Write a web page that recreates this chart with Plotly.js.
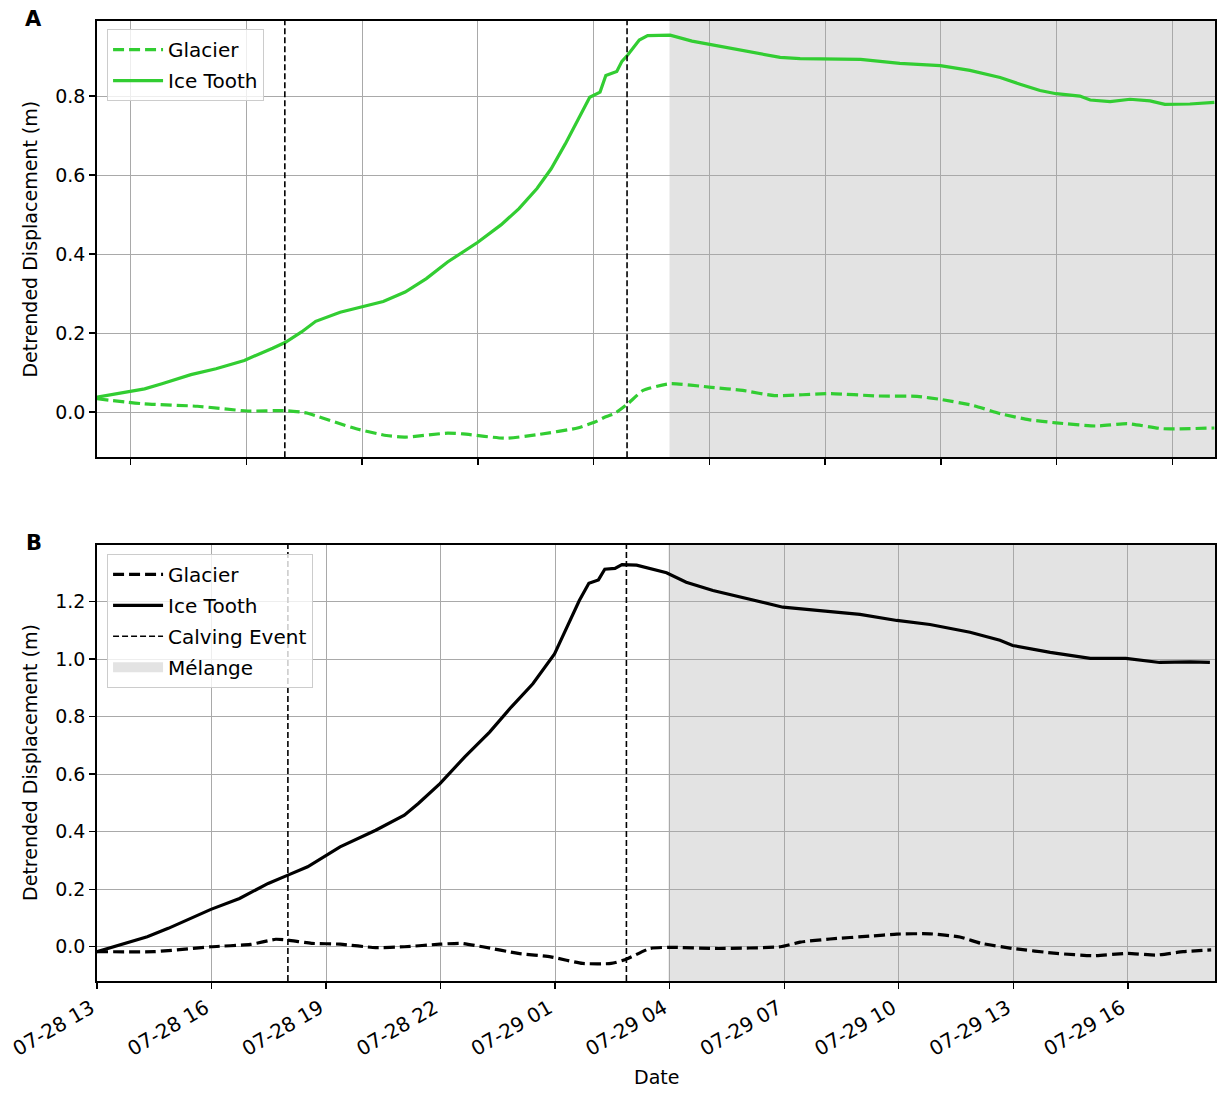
<!DOCTYPE html>
<html>
<head>
<meta charset="utf-8">
<script src="https://cdn.plot.ly/plotly-3.0.1.min.js"></script>
<style>
  html, body { margin: 0; padding: 0; background: #ffffff; }
  #chart { width: 1220px; height: 1093px; }
</style>
</head>
<body>
<div id="chart"></div>
<script>
// ---------- DATA (times as MM-DD HH:MM, values in metres) ----------
const topIceTime = ['07-28 13:08','07-28 14:22','07-28 14:49','07-28 15:34','07-28 16:13','07-28 16:57','07-28 17:41','07-28 18:01','07-28 18:26','07-28 18:48','07-28 19:26','07-28 20:00','07-28 20:33','07-28 21:07','07-28 21:40','07-28 22:13','07-28 23:00','07-28 23:36','07-29 00:04','07-29 00:32','07-29 00:54','07-29 01:16','07-29 01:38','07-29 01:54','07-29 02:10','07-29 02:19','07-29 02:36','07-29 02:44','07-29 02:53','07-29 03:11','07-29 03:24','07-29 03:59','07-29 04:33','07-29 05:17','07-29 05:48','07-29 06:19','07-29 06:50','07-29 07:21','07-29 07:58','07-29 08:55','07-29 09:56','07-29 10:59','07-29 11:45','07-29 12:32','07-29 13:03','07-29 13:34','07-29 13:59','07-29 14:36','07-29 14:52','07-29 15:23','07-29 15:54','07-29 16:25','07-29 16:48','07-29 17:27','07-29 18:05'];
const topIceTooth = [0.038,0.059,0.072,0.095,0.110,0.131,0.162,0.177,0.203,0.230,0.253,0.266,0.280,0.304,0.338,0.380,0.430,0.474,0.515,0.566,0.616,0.679,0.747,0.797,0.810,0.852,0.862,0.888,0.904,0.942,0.953,0.954,0.939,0.926,0.917,0.908,0.898,0.895,0.895,0.893,0.883,0.877,0.865,0.847,0.830,0.814,0.806,0.800,0.790,0.786,0.792,0.788,0.779,0.780,0.784];

const topGlacierTime = ['07-28 13:08','07-28 14:22','07-28 15:44','07-28 17:02','07-28 18:01','07-28 18:26','07-28 18:34','07-28 19:51','07-28 20:38','07-28 21:08','07-28 22:13','07-28 22:37','07-28 23:43','07-29 00:36','07-29 01:35','07-29 02:02','07-29 02:17','07-29 02:32','07-29 02:53','07-29 03:17','07-29 03:58','07-29 05:03','07-29 05:52','07-29 06:41','07-29 08:08','07-29 09:22','07-29 10:23','07-29 11:01','07-29 11:50','07-29 12:33','07-29 13:16','07-29 13:59','07-29 15:01','07-29 15:50','07-29 16:46','07-29 18:05'];
const topGlacier = [0.034,0.021,0.015,0.003,0.004,0.000,-0.002,-0.042,-0.059,-0.063,-0.053,-0.055,-0.066,-0.056,-0.040,-0.025,-0.013,-0.004,0.021,0.055,0.072,0.063,0.055,0.042,0.047,0.041,0.040,0.032,0.017,-0.004,-0.019,-0.027,-0.035,-0.029,-0.042,-0.040];

const botIceTime = ['07-28 13:00','07-28 13:45','07-28 14:19','07-28 14:52','07-28 15:26','07-28 15:59','07-28 16:44','07-28 17:29','07-28 18:00','07-28 18:31','07-28 19:22','07-28 20:18','07-28 21:03','07-28 21:25','07-28 21:59','07-28 22:38','07-28 23:17','07-28 23:51','07-29 00:25','07-29 00:59','07-29 01:10','07-29 01:21','07-29 01:38','07-29 01:53','07-29 02:08','07-29 02:18','07-29 02:34','07-29 02:45','07-29 03:08','07-29 03:55','07-29 04:26','07-29 05:08','07-29 05:50','07-29 06:58','07-29 07:56','07-29 08:59','07-29 09:57','07-29 10:49','07-29 11:52','07-29 12:39','07-29 12:59','07-29 13:58','07-29 15:01','07-29 15:57','07-29 16:50','07-29 17:38','07-29 18:09'];
const botIceTooth = [-0.017,0.012,0.035,0.064,0.099,0.130,0.168,0.220,0.249,0.278,0.347,0.405,0.457,0.498,0.567,0.660,0.746,0.833,0.914,1.018,1.070,1.123,1.203,1.263,1.275,1.312,1.315,1.328,1.326,1.300,1.267,1.238,1.215,1.180,1.168,1.155,1.134,1.120,1.093,1.065,1.047,1.023,1.002,1.002,0.988,0.990,0.988];

const botGlacierTime = ['07-28 13:00','07-28 14:30','07-28 15:59','07-28 17:01','07-28 17:41','07-28 18:00','07-28 18:37','07-28 19:22','07-28 20:18','07-28 21:03','07-28 21:59','07-28 22:32','07-28 23:06','07-29 00:02','07-29 00:53','07-29 01:43','07-29 02:28','07-29 02:51','07-29 03:29','07-29 03:58','07-29 05:17','07-29 06:54','07-29 07:25','07-29 08:12','07-29 09:15','07-29 09:57','07-29 10:49','07-29 11:36','07-29 12:09','07-29 12:59','07-29 14:08','07-29 15:04','07-29 16:00','07-29 16:44','07-29 17:27','07-29 18:11'];
const botGlacier = [-0.017,-0.017,0.000,0.008,0.026,0.023,0.012,0.009,-0.003,0.000,0.009,0.012,0.000,-0.023,-0.035,-0.058,-0.058,-0.044,-0.006,-0.002,-0.006,0.000,0.016,0.027,0.037,0.044,0.045,0.034,0.012,-0.006,-0.023,-0.031,-0.023,-0.029,-0.017,-0.011];

const calvingTimes = ['07-28 18:00','07-29 02:52'];
const melangeStart = '07-29 03:58';
const seriesNames = ['Glacier','Ice Tooth','Calving Event','Mélange'];
const panelLabels = ['A','B'];
const yAxisTitle = 'Detrended Displacement (m)';
const xAxisTitle = 'Date';

// ---------- helpers ----------
const YEAR = '2019-';
const full = arr => arr.map(s => YEAR + s);
const GREEN = '#32cd32';
const SHADE = '#e3e3e3';
const FONT = 'DejaVu Sans, Liberation Sans, sans-serif';
const topRange = [YEAR + '07-28 13:08', YEAR + '07-29 18:06'];
const botRange = [YEAR + '07-28 13:00', YEAR + '07-29 18:17'];

const traces = [
  {x: full(topGlacierTime), y: topGlacier, name: seriesNames[0], mode: 'lines', legendgroup: 'a1',
   line: {color: GREEN, width: 3.2, dash: '11px,5px', shape: 'spline', smoothing: 0.5},
   xaxis: 'x', yaxis: 'y', legend: 'legend'},
  {x: full(topIceTime), y: topIceTooth, name: seriesNames[1], mode: 'lines', legendgroup: 'a2',
   line: {color: GREEN, width: 3.2}, xaxis: 'x', yaxis: 'y', legend: 'legend'},
  {x: full(botGlacierTime), y: botGlacier, name: seriesNames[0], mode: 'lines', legendgroup: 'b1',
   line: {color: '#000000', width: 3.2, dash: '11px,5px', shape: 'spline', smoothing: 0.5},
   xaxis: 'x2', yaxis: 'y2', legend: 'legend2'},
  {x: full(botIceTime), y: botIceTooth, name: seriesNames[1], mode: 'lines', legendgroup: 'b2',
   line: {color: '#000000', width: 3.2}, xaxis: 'x2', yaxis: 'y2', legend: 'legend2'},
  {x: [null], y: [null], name: seriesNames[2], mode: 'lines', legendgroup: 'b3',
   line: {color: '#000000', width: 1.6, dash: '6px,3px'}, xaxis: 'x2', yaxis: 'y2', legend: 'legend2'},
  {x: [null], y: [null], name: seriesNames[3], mode: 'lines', legendgroup: 'b4',
   line: {color: SHADE, width: 16}, xaxis: 'x2', yaxis: 'y2', legend: 'legend2'}
];

const shapes = [];
[['x','y',topRange],['x2','y2',botRange]].forEach(([xa, ya, rng]) => {
  shapes.push({type: 'rect', xref: xa, yref: ya + ' domain', x0: YEAR + melangeStart, x1: rng[1],
    y0: 0, y1: 1, fillcolor: SHADE, line: {width: 0}, layer: 'below'});
  calvingTimes.forEach(t => shapes.push({type: 'line', xref: xa, yref: ya + ' domain',
    x0: YEAR + t, x1: YEAR + t, y0: 0, y1: 1, line: {color: '#000000', width: 1.6, dash: '6px,3px'}, layer: 'above'}));
});

const xCommon = {
  type: 'date', tickformat: '%m-%d %H', dtick: 3 * 3600000,
  showgrid: true, gridcolor: '#a9a9a9', gridwidth: 1,
  showline: true, linecolor: '#000000', linewidth: 1.8, mirror: true,
  ticks: 'outside', ticklen: 6, tickwidth: 1.4, tickcolor: '#000000',
  zeroline: false, tickfont: {family: FONT, size: 20, color: '#000000'}
};
const yCommon = {
  dtick: 0.2, tickformat: '.1f',
  showgrid: true, gridcolor: '#a9a9a9', gridwidth: 1,
  showline: true, linecolor: '#000000', linewidth: 1.8, mirror: true,
  ticks: 'outside', ticklen: 6, tickwidth: 1.4, tickcolor: '#000000',
  zeroline: false, tickfont: {family: FONT, size: 19, color: '#000000'}
};

const legendCommon = {
  bgcolor: 'rgba(255,255,255,0.8)', bordercolor: '#cccccc', borderwidth: 1,
  font: {family: FONT, size: 20, color: '#000000'}, xanchor: 'left', yanchor: 'top',
  traceorder: 'grouped', itemwidth: 50, tracegroupgap: 2
};

const layout = {
  width: 1220, height: 1093,
  margin: {l: 97, r: 5, t: 21, b: 112},
  paper_bgcolor: '#ffffff', plot_bgcolor: '#ffffff',
  font: {family: FONT, size: 19, color: '#000000'},
  xaxis: Object.assign({}, xCommon, {anchor: 'y', range: topRange, tick0: YEAR + '07-28 14:00', showticklabels: false}),
  yaxis: Object.assign({}, yCommon, {anchor: 'x', domain: [0.5456, 1], range: [-0.114, 0.990]}),
  xaxis2: Object.assign({}, xCommon, {anchor: 'y2', range: botRange, tick0: YEAR + '07-28 13:00', tickangle: -30, ticklabelshift: -6}),
  yaxis2: Object.assign({}, yCommon, {anchor: 'x2', domain: [0, 0.4544], range: [-0.119, 1.397]}),
  legend: Object.assign({}, legendCommon, {x: 0.009, y: 0.9915}),
  legend2: Object.assign({}, legendCommon, {x: 0.009, y: 0.4450}),
  shapes: shapes,
  annotations: [
    {text: '<b>' + panelLabels[0] + '</b>', xref: 'paper', yref: 'paper', x: -0.0564, y: 1.0021,
     showarrow: false, xanchor: 'center', yanchor: 'middle', font: {family: FONT, size: 21}},
    {text: '<b>' + panelLabels[1] + '</b>', xref: 'paper', yref: 'paper', x: -0.0564, y: 0.4558,
     showarrow: false, xanchor: 'center', yanchor: 'middle', font: {family: FONT, size: 21}},
    {text: yAxisTitle, xref: 'paper', yref: 'paper', x: -0.0599, y: 0.7724, textangle: -90,
     showarrow: false, xanchor: 'center', yanchor: 'middle', font: {family: FONT, size: 19}},
    {text: yAxisTitle, xref: 'paper', yref: 'paper', x: -0.0599, y: 0.2272, textangle: -90,
     showarrow: false, xanchor: 'center', yanchor: 'middle', font: {family: FONT, size: 19}},
    {text: xAxisTitle, xref: 'paper', yref: 'paper', x: 0.5, y: -0.0999,
     showarrow: false, xanchor: 'center', yanchor: 'middle', font: {family: FONT, size: 19}}
  ]
};

Plotly.newPlot('chart', traces, layout, {displayModeBar: false, staticPlot: true});
</script>
</body>
</html>
